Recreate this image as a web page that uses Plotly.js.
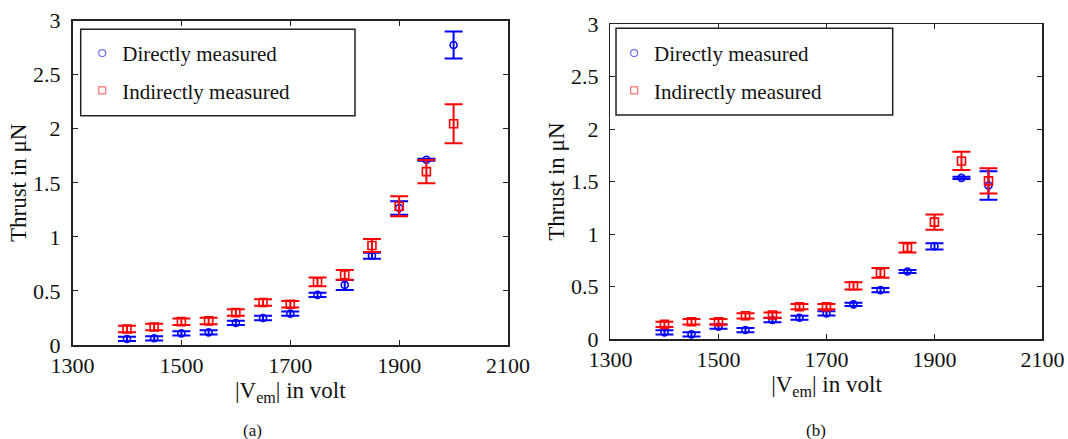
<!DOCTYPE html>
<html><head><meta charset="utf-8">
<script src="https://cdn.plot.ly/plotly-3.0.1.min.js"></script>
<style>html,body{margin:0;padding:0;background:#fff;}#chart{width:1068px;height:439px;}</style>
</head><body><div id="chart"></div>
<script>
const voltage = [1400,1450,1500,1550,1600,1650,1700,1750,1800,1850,1900,1950,2000];
// panel (a)
const directA    = [0.056,0.062,0.108,0.117,0.204,0.250,0.290,0.464,0.556,0.825,1.267,1.714,2.775];
const directAErr = [0.020,0.020,0.020,0.020,0.020,0.020,0.020,0.020,0.046,0.028,0.062,0.010,0.125];
const indirA     = [0.148,0.167,0.216,0.223,0.300,0.393,0.377,0.584,0.649,0.921,1.283,1.604,2.046];
const indirAErr  = [0.030,0.030,0.030,0.030,0.030,0.030,0.030,0.040,0.045,0.060,0.093,0.108,0.180];
// panel (b)
const directB    = [0.066,0.047,0.120,0.088,0.183,0.205,0.246,0.332,0.468,0.645,0.885,1.536,1.463];
const directBErr = [0.020,0.020,0.020,0.020,0.020,0.020,0.020,0.015,0.020,0.015,0.030,0.010,0.135];
const indirB     = [0.142,0.167,0.167,0.224,0.231,0.310,0.310,0.509,0.632,0.872,1.115,1.697,1.507];
const indirBErr  = [0.025,0.025,0.025,0.025,0.025,0.025,0.025,0.035,0.047,0.046,0.073,0.087,0.120];

const xTicks = [1300,1500,1700,1900,2100];
const yTicks = [0,0.5,1,1.5,2,2.5,3];
const names = ['Directly measured','Indirectly measured'];
const BLUE = '#0000ff', RED = '#ff0000';
const FONT = 'Liberation Serif, Tinos, Times New Roman, Times, DejaVu Serif, serif';

function series(y, err, color, symbol, xa, ya) {
  return {
    x: voltage, y: y, xaxis: xa, yaxis: ya, type: 'scatter', mode: 'markers',
    showlegend: false, cliponaxis: false,
    marker: {symbol: symbol, size: symbol === 'square-open' ? 8 : 7, color: color, line: {width: 1.6, color: color}},
    error_y: {type: 'data', array: err, visible: true, color: color, thickness: 2, width: 9}
  };
}
function legendTrace(name, color, symbol, leg, grp) {
  return {x: [null], y: [null], xaxis: leg === 'legend' ? 'x' : 'x2', yaxis: leg === 'legend' ? 'y' : 'y2',
    type: 'scatter', mode: 'markers', name: name, legend: leg, legendgroup: grp,
    marker: {symbol: symbol, size: 7, color: color, line: {width: 1.2, color: color}}};
}
const data = [
  series(directA, directAErr, BLUE, 'circle-open', 'x', 'y'),
  series(indirA, indirAErr, RED, 'square-open', 'x', 'y'),
  series(directB, directBErr, BLUE, 'circle-open', 'x2', 'y2'),
  series(indirB, indirBErr, RED, 'square-open', 'x2', 'y2'),
  legendTrace(names[0], '#7070ff', 'circle-open', 'legend', 'a1'),
  legendTrace(names[1], '#ff7070', 'square-open', 'legend', 'a2'),
  legendTrace(names[0], '#7070ff', 'circle-open', 'legend2', 'b1'),
  legendTrace(names[1], '#ff7070', 'square-open', 'legend2', 'b2')
];

function xaxis(domain, anchor) {
  return {domain: domain, anchor: anchor, range: [1300, 2100], tickvals: xTicks, ticks: 'inside', ticklen: 5,
    tickcolor: '#222', showline: true, linecolor: '#222', linewidth: 1.5, mirror: 'ticks', showgrid: false, zeroline: false,
    tickfont: {family: FONT, size: 22, color: '#111'},
    title: {text: '|V<sub>em</sub>| in volt', font: {family: FONT, size: 23, color: '#111'}, standoff: 0}};
}
function yaxis(domain, anchor) {
  return {domain: domain, anchor: anchor, range: [0, 3], tickvals: yTicks, ticks: 'inside', ticklen: 5,
    tickcolor: '#222', showline: true, linecolor: '#222', linewidth: 1.5, mirror: 'ticks', showgrid: false, zeroline: false,
    tickfont: {family: FONT, size: 22, color: '#111'}, ticklabelstandoff: 6,
    title: {text: 'Thrust in μN', font: {family: FONT, size: 23, color: '#111'}, standoff: 0}};
}
function legend(x, y) {
  return {x: x, y: y, xanchor: 'left', yanchor: 'top', bgcolor: 'rgba(0,0,0,0)', borderwidth: 0,
    font: {family: FONT, size: 21, color: '#111'}, traceorder: 'grouped', tracegroupgap: 7, itemwidth: 30};
}
const layout = {
  width: 1068, height: 439, margin: {l: 0, r: 0, t: 0, b: 0},
  paper_bgcolor: '#fff', plot_bgcolor: '#fff', showlegend: true,
  font: {family: FONT},
  xaxis: xaxis([0.0679, 0.4757], 'y'),
  yaxis: yaxis([0.2141, 0.9529], 'x'),
  xaxis2: xaxis([0.5716, 0.9761], 'y2'),
  yaxis2: yaxis([0.2271, 0.9453], 'x2'),
  legend: legend(0.077, 0.925),
  legend2: legend(0.575, 0.925),
  shapes: [
    {type: 'rect', xref: 'paper', yref: 'paper', x0: 80.7/1068, x1: 355/1068, y0: 1 - 115.7/439, y1: 1 - 29.3/439, line: {color: '#222', width: 1.5}},
    {type: 'rect', xref: 'paper', yref: 'paper', x0: 616/1068, x1: 892.7/1068, y0: 1 - 115/439, y1: 1 - 28.3/439, line: {color: '#222', width: 1.5}}
  ],
  annotations: [
    {text: '(a)', xref: 'paper', yref: 'paper', x: 252/1068, y: 9/439, xanchor: 'center', yanchor: 'middle', showarrow: false, font: {family: FONT, size: 17, color: '#111'}},
    {text: '(b)', xref: 'paper', yref: 'paper', x: 816/1068, y: 9/439, xanchor: 'center', yanchor: 'middle', showarrow: false, font: {family: FONT, size: 17, color: '#111'}}
  ]
};
Plotly.newPlot('chart', data, layout, {displayModeBar: false, staticPlot: true});
</script></body></html>
